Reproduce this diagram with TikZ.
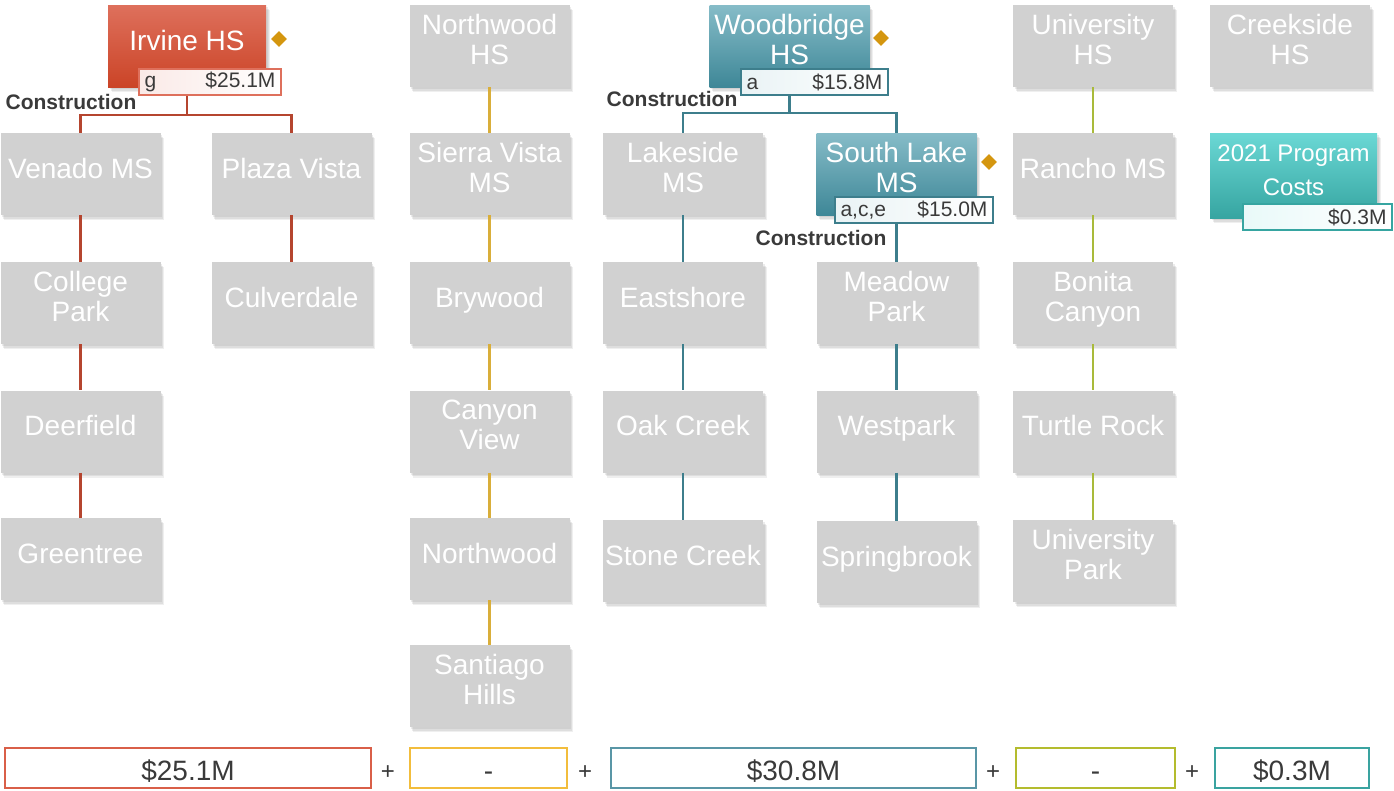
\documentclass[tikz,border=0pt]{standalone}
\usepackage{fontspec}
\setmainfont{Liberation Sans}
\usetikzlibrary{shapes.geometric,shadows}

\definecolor{boxgray}{HTML}{D1D1D1}
\definecolor{irvtop}{HTML}{DE705C}
\definecolor{irvbot}{HTML}{CB4427}
\definecolor{woodtop}{HTML}{86BCC8}
\definecolor{woodbot}{HTML}{3E8797}
\definecolor{progtop}{HTML}{6BD8D5}
\definecolor{progbot}{HTML}{36A5A1}
\definecolor{irvline}{HTML}{B5452F}
\definecolor{northline}{HTML}{D9AE3A}
\definecolor{woodline}{HTML}{3D7E8C}
\definecolor{uniline}{HTML}{A9BA3A}
\definecolor{diamondgold}{HTML}{D4960F}
\definecolor{darktext}{HTML}{3A3A3A}
\definecolor{totred}{HTML}{D95F48}
\definecolor{totyellow}{HTML}{F2BD3C}
\definecolor{totteal}{HTML}{5996A6}
\definecolor{totolive}{HTML}{B4BC2E}
\definecolor{totcyan}{HTML}{3AA3A0}

\tikzset{
  softshadow/.style={
    drop shadow={shadow xshift=1.5pt, shadow yshift=-2pt, opacity=0.15},
    drop shadow={shadow xshift=2.5pt, shadow yshift=-3.5pt, opacity=0.15},
    drop shadow={shadow xshift=3.5pt, shadow yshift=-5pt, opacity=0.13}},
  school/.style={rectangle, fill=boxgray, minimum width=160pt, minimum height=82pt,
    inner sep=0pt, softshadow},
  schooltext/.style={text=white, font=\fontsize{28}{30}\selectfont, align=center,
    yshift=2pt, inner sep=0pt, execute at begin node=\strut, execute at end node=\strut},
  costlab/.style={rectangle, draw=#1, line width=1.2pt, minimum height=26pt,
    inner xsep=5.5pt, inner ysep=0pt, text=darktext, font=\fontsize{21}{21}\selectfont},
  gem/.style={diamond, fill=diamondgold, minimum size=16pt, inner sep=0pt},
  worktype/.style={font=\bfseries\fontsize{21}{21}\selectfont, text=darktext, inner sep=0pt},
  link/.style={line width=2.4pt, draw=#1},
  total/.style={rectangle, draw=#1, line width=2.5pt, minimum height=40pt, inner sep=0pt,
    text height=24pt, text depth=0pt, text=darktext, font=\fontsize{28}{28}\selectfont},
  plus/.style={text=darktext, font=\fontsize{24}{24}\selectfont, inner sep=0pt}
}

\begin{document}
\begin{tikzpicture}[x=1pt, y=-1pt]
\useasboundingbox (0,0) rectangle (1394,790);

% Irvine HS family
\node[school, shading=axis, top color=irvtop, bottom color=irvbot, minimum width=158pt,
  label={[schooltext]center:Irvine HS}] (irvine) at (187,46) {};
\node[school, label={[schooltext]center:Venado MS}] (venado) at (80.5,174) {};
\node[school, label={[schooltext]center:Plaza Vista}] (plaza) at (291.5,174) {};
\node[school, label={[schooltext]center:{College\\Park}}] (college) at (80.5,303) {};
\node[school, label={[schooltext]center:Culverdale}] (culver) at (291.5,303) {};
\node[school, label={[schooltext]center:Deerfield}] (deer) at (80.5,431.5) {};
\node[school, label={[schooltext]center:Greentree}] (green) at (80.5,559) {};
\draw[link=irvline] (irvine.south) -- ++(0,28) coordinate (irvj);
\draw[link=irvline] (irvj) -| (venado.north);
\draw[link=irvline] (irvj) -| (plaza.north);
\draw[link=irvline] (venado) -- (college);
\draw[link=irvline] (college) -- (deer);
\draw[link=irvline] (deer) -- (green);
\draw[link=irvline] (plaza) -- (culver);
\node[costlab=irvtop, left color=irvtop!15, right color=white, text width=131pt]
  (irvlab) at (210,82) {g\hfill\$25.1M};
\node[gem] (irvmark) at (279,39) {};
\node[worktype] (irvwork) at (71,102) {Construction};

% Northwood HS family
\node[school, label={[schooltext]center:{Northwood\\HS}}] (northhs) at (489.5,46) {};
\node[school, label={[schooltext]center:{Sierra Vista\\MS}}] (sierra) at (489.5,174) {};
\node[school, label={[schooltext]center:Brywood}] (bry) at (489.5,303) {};
\node[school, label={[schooltext]center:{Canyon\\View}}] (canyon) at (489.5,431.5) {};
\node[school, label={[schooltext]center:Northwood}] (northes) at (489.5,559) {};
\node[school, label={[schooltext]center:{Santiago\\Hills}}] (santiago) at (489.5,686) {};
\draw[link=northline] (northhs) -- (sierra);
\draw[link=northline] (sierra) -- (bry);
\draw[link=northline] (bry) -- (canyon);
\draw[link=northline] (canyon) -- (northes);
\draw[link=northline] (northes) -- (santiago);

% Woodbridge HS family
\node[school, shading=axis, top color=woodtop, bottom color=woodbot,
  label={[schooltext]center:{Woodbridge\\HS}}] (wood) at (789.5,46) {};
\node[school, label={[schooltext]center:{Lakeside\\MS}}] (lake) at (683,174) {};
\node[school, shading=axis, top color=woodtop, bottom color=woodbot,
  label={[schooltext]center:{South Lake\\MS}}] (south) at (896.5,174) {};
\node[school, label={[schooltext]center:Eastshore}] (east) at (683,303) {};
\node[school, label={[schooltext]center:{Meadow\\Park}}] (meadow) at (896.5,303) {};
\node[school, label={[schooltext]center:Oak Creek}] (oak) at (683,431.5) {};
\node[school, label={[schooltext]center:Westpark}] (west) at (896.5,431.5) {};
\node[school, label={[schooltext]center:Stone Creek}] (stone) at (683,561) {};
\node[school, label={[schooltext]center:Springbrook}] (spring) at (896.5,562) {};
\draw[link=woodline] (wood.south) -- ++(0,26) coordinate (woodj);
\draw[link=woodline] (woodj) -| (lake.north);
\draw[link=woodline] (woodj) -| (south.north);
\draw[link=woodline] (lake) -- (east);
\draw[link=woodline] (east) -- (oak);
\draw[link=woodline] (oak) -- (stone);
\draw[link=woodline] (south) -- (meadow);
\draw[link=woodline] (meadow) -- (west);
\draw[link=woodline] (west) -- (spring);
\node[costlab=woodline, left color=woodtop!18, right color=white, text width=136pt]
  (woodlab) at (814.5,82) {a\hfill\$15.8M};
\node[costlab=woodline, left color=woodtop!18, right color=white, text width=147pt]
  (southlab) at (914,210) {a,c,e\hfill\$15.0M};
\node[gem] (woodmark) at (881,38) {};
\node[gem] (southmark) at (989,162) {};
\node[worktype] (woodwork) at (672,99) {Construction};
\node[worktype] (southwork) at (821,238) {Construction};

% University HS family
\node[school, label={[schooltext]center:{University\\HS}}] (unihs) at (1093,46) {};
\node[school, label={[schooltext]center:Rancho MS}] (rancho) at (1093,174) {};
\node[school, label={[schooltext]center:{Bonita\\Canyon}}] (bonita) at (1093,303) {};
\node[school, label={[schooltext]center:Turtle Rock}] (turtle) at (1093,431.5) {};
\node[school, label={[schooltext]center:{University\\Park}}] (unipark) at (1093,561) {};
\draw[link=uniline] (unihs) -- (rancho);
\draw[link=uniline] (rancho) -- (bonita);
\draw[link=uniline] (bonita) -- (turtle);
\draw[link=uniline] (turtle) -- (unipark);

% Creekside HS and program costs
\node[school, label={[schooltext]center:{Creekside\\HS}}] (creek) at (1290,46) {};
\node[school, shading=axis, top color=progtop, bottom color=progbot, minimum width=167pt,
  minimum height=85pt,
  label={[schooltext, font=\fontsize{24}{34}\selectfont, yshift=-2pt]center:{2021 Program\\Costs}}]
  (prog) at (1293.5,175.5) {};
\node[costlab=progbot, left color=progtop!15, right color=white, text width=138pt]
  (proglab) at (1317.5,217) {\hfill\$0.3M};

% totals
\node[total=totred, minimum width=366pt] (totirv) at (188,768) {\$25.1M};
\node[plus] (plusa) at (388,773) {+};
\node[total=totyellow, minimum width=157pt] (totnorth) at (488.5,768) {-};
\node[plus] (plusb) at (585,773) {+};
\node[total=totteal, minimum width=365pt] (totwood) at (793.5,768) {\$30.8M};
\node[plus] (plusc) at (993,773) {+};
\node[total=totolive, minimum width=159pt] (totuni) at (1095.5,768) {-};
\node[plus] (plusd) at (1192,773) {+};
\node[total=totcyan, minimum width=154pt] (totprog) at (1292,768) {\$0.3M};
\end{tikzpicture}
\end{document}
